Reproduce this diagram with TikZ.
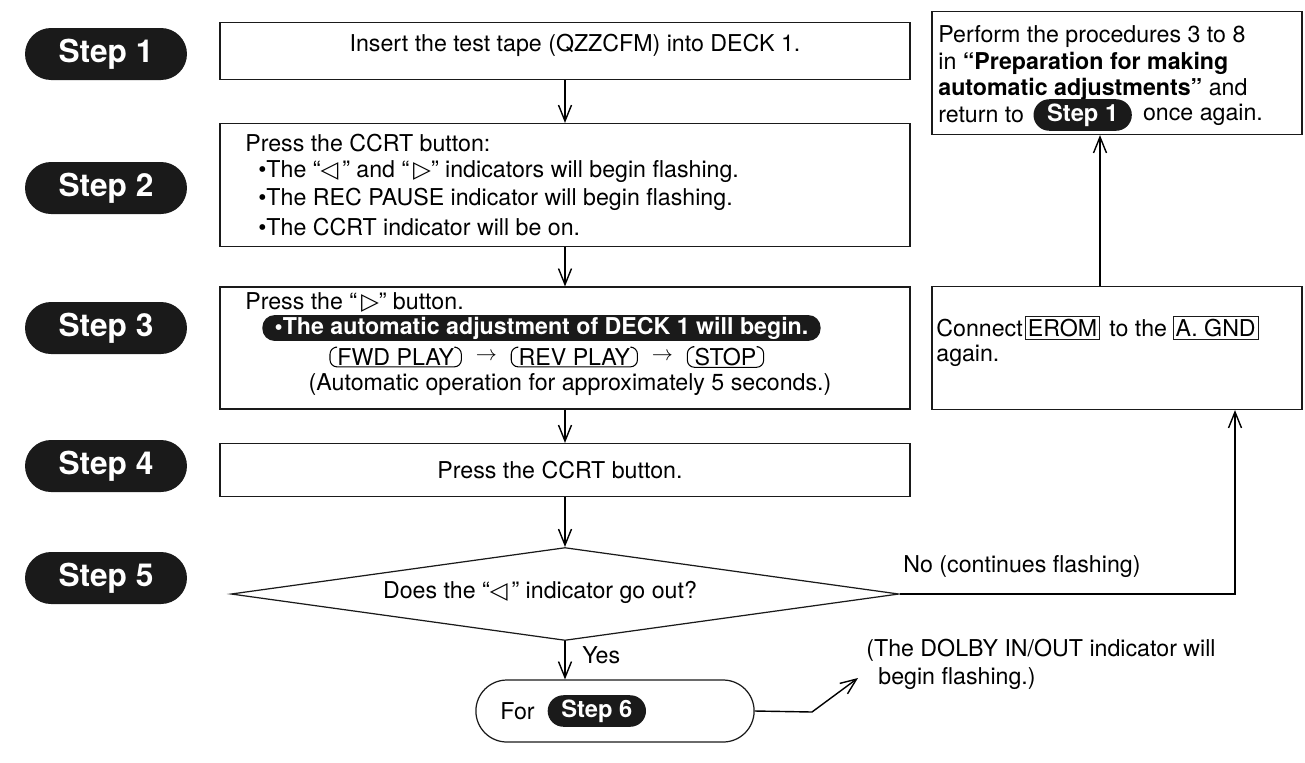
\documentclass[tikz,border=0pt]{standalone}
\usepackage{fontspec}
\setmainfont{TeX Gyre Heros}
\newfontfamily\symfont{DejaVu Sans}
\usetikzlibrary{shapes.geometric,shapes.misc,arrows.meta,positioning}
\definecolor{inkblack}{HTML}{1A1A1A}
\tikzset{
  steptag/.style={rounded rectangle, fill=inkblack, text=white, inner sep=0pt,
                  font=\fontsize{18}{20}\selectfont\bfseries,
                  minimum width=3.24cm, minimum height=1.04cm},
  minitag/.style={rounded rectangle, fill=inkblack, text=white, inner xsep=5pt,
                  inner ysep=2.5pt, font=\fontsize{13.5}{15}\selectfont\bfseries},
  stepbox/.style={draw=inkblack, line width=0.7pt, minimum width=13.8cm, inner sep=0pt},
  sidebox/.style={draw=inkblack, line width=0.7pt, minimum width=7.4cm,
                  minimum height=2.46cm, inner sep=0pt},
  txt/.style={font=\fontsize{13.2}{15}\selectfont, inner sep=0pt, anchor=west},
  framed/.style={draw=inkblack, line width=0.5pt, inner sep=1.5pt,
                 font=\fontsize{13.2}{15}\selectfont},
  keycap/.style={inner xsep=4pt, inner ysep=0.6pt, font=\fontsize{13.2}{15}\selectfont},
  banner/.style={fill=inkblack, text=white, rounded corners=7pt, inner xsep=7pt,
                 inner ysep=1pt, minimum height=0.46cm,
                 font=\fontsize{13.2}{15}\selectfont\bfseries},
  decision/.style={diamond, draw=inkblack, line width=0.7pt, inner sep=0pt,
                   minimum width=13.36cm, minimum height=1.86cm},
  finish/.style={rounded rectangle, draw=inkblack, line width=0.7pt,
                 minimum width=5.8cm, minimum height=1.24cm},
  flow/.style={-{Straight Barb[length=3.2mm,width=2.6mm]}, line width=0.8pt},
}

\begin{document}
\begin{tikzpicture}[x=0.02cm, y=-0.02cm]
  \useasboundingbox (0,0) rectangle (1305,762);

  % step tags down the left
  \foreach \n/\y in {1/54, 2/188, 3/328, 4/466, 5/578}
    \node[steptag] (tag\n) at (106,\y) {Step \n};

  % main column
  \node[stepbox, minimum height=1.14cm] (b1) at (565,51) {};
  \node[txt, anchor=center] (t1) at (575,45) {Insert the test tape (QZZCFM) into DECK 1.};

  \node[stepbox, minimum height=2.46cm] (b2) at (565,185) {};
  \node[txt] (t2a) at (245,143) {Press the CCRT button:};
  \node[txt] (t2b) at (258,172) {\textbullet The “{\symfont ◁}\,” and “\,{\symfont ▷}” indicators will begin flashing.};
  \node[txt] (t2c) at (258,199) {\textbullet The REC PAUSE indicator will begin flashing.};
  \node[txt] (t2d) at (258,227) {\textbullet The CCRT indicator will be on.};

  \node[stepbox, minimum height=2.44cm] (b3) at (565,348) {};
  \node[txt] (t3a) at (245,302) {Press the “\,{\symfont ▷}” button.};
  \node[banner, anchor=west] (auto) at (262,328) {\textbullet The automatic adjustment of DECK 1 will begin.};
  \node[keycap, anchor=west] (fwd) at (330,357) {FWD PLAY};
  \node[keycap, right=4pt of fwd] (a1) {$\rightarrow$};
  \node[keycap, right=4pt of a1] (rev) {REV PLAY};
  \node[keycap, right=4pt of rev] (a2) {$\rightarrow$};
  \node[keycap, right=4pt of a2] (stp) {STOP};
  \foreach \k in {fwd,rev,stp}
    \draw[line width=0.6pt, rounded corners=4pt]
      ([xshift=3pt]\k.north west) -- (\k.north west) -- (\k.south west)
      -- (\k.south east) -- (\k.north east) -- ([xshift=-3pt]\k.north east);
  \node[txt, anchor=center] (t3b) at (570,385) {(Automatic operation for approximately 5 seconds.)};

  \node[stepbox, minimum height=1.06cm] (b4) at (565,470) {};
  \node[txt, anchor=center] (t4) at (560,470) {Press the CCRT button.};

  \node[decision] (ask) at (565,594) {};
  \node[txt, anchor=center] (t5) at (540,592) {Does the “{\symfont ◁}\,” indicator go out?};

  \node[finish] (fin) at (615,711) {};
  \node[txt] (forw) at (500,711) {For};
  \node[minitag, right=7pt of forw] (s6) {Step 6};

  % right column
  \node[sidebox] (redo) at (1117,73) {};
  \node[txt] (r1) at (938,37) {Perform the procedures 3 to 8};
  \node[txt] (r2) at (938,63) {in {\bfseries “Preparation for making}};
  \node[txt] (r3) at (938,89) {{\bfseries automatic adjustments”} and};
  \node[txt] (r4) at (938,115) {return to};
  \node[minitag, right=5pt of r4] (s1) {Step 1};
  \node[txt, right=6pt of s1] (r5) {once again.};

  \node[sidebox] (mid) at (1117,348) {};
  \node[txt] (c1) at (936,328) {Connect};
  \node[framed, right=1pt of c1] (erom) {EROM};
  \node[txt, right=5pt of erom] (c2) {to the};
  \node[framed, right=3pt of c2] (gnd) {A. GND};
  \node[txt] (c3) at (936,356) {again.};

  % notes
  \node[txt] (nolbl) at (903,567) {No (continues flashing)};
  \node[txt] (dol1) at (866,650) {(The DOLBY IN/OUT indicator will};
  \node[txt] (dol2) at (878,679) {begin flashing.)};
  \node[txt] (yes) at (582,655) {Yes};

  % connectors
  \coordinate (noturn) at (1235,594);
  \coordinate (upx) at (1100,0);
  \coordinate (bendpt) at (812,712);
  \coordinate (nextpg) at (858,678);
  \draw[flow] (b1) -- (b2);
  \draw[flow] (b2) -- (b3);
  \draw[flow] (b3) -- (b4);
  \draw[flow] (b4.south) -- (ask.north);
  \draw[flow] (ask.south) -- (ask.south |- fin.north);
  \draw[flow] (ask.east) -- (noturn) -- (noturn |- mid.south);
  \draw[flow] (upx |- mid.north) -- (upx |- redo.south);
  \draw[flow] (fin.east) -- (bendpt) -- (nextpg);
\end{tikzpicture}
\end{document}
